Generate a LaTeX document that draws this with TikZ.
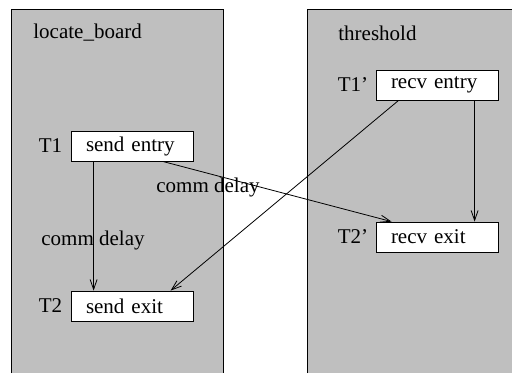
\documentclass[tikz,border=0pt]{standalone}
\usepackage{fontspec}
\setmainfont{Liberation Serif}
\usetikzlibrary{positioning,arrows.meta}

\tikzset{
  lane/.style={fill=black!25, draw=none},
  event/.style={draw, fill=white, line width=0.8pt, minimum width=122pt, minimum height=30pt,
    text width=92pt, inner xsep=15pt, inner ysep=0pt, align=left},
  tlabel/.style={inner sep=0pt},
}

\begin{document}
\begin{tikzpicture}[x=1pt, y=-1pt, >={Straight Barb[length=10pt,width=7pt]},
  font=\fontsize{21}{23}\selectfont, line width=0.8pt]
\useasboundingbox (0,0) rectangle (512,373);

% the two process lanes
\fill[lane] (11,9) rectangle (223,373);
\draw (11,373) -- (11,9) -- (223,9) -- (223,373);
\fill[lane] (307,9) rectangle (512,373);
\draw (307,373) -- (307,9) -- (512,9);

\node[anchor=west, inner sep=0pt] (P1) at (33,33) {locate\_board};
\node[anchor=west, inner sep=0pt] (P2) at (338,33) {threshold};

\node[event] (SE) at (132,146) {send entry};
\node[event] (SX) at (132,306) {send exit};
\node[event] (RE) at (437,85)  {recv entry};
\node[event] (RX) at (437,237) {recv exit};

\node[tlabel, left=8pt of SE] (T1)  {T1};
\node[tlabel, left=8pt of SX] (T2)  {T2};
\node[tlabel, left=7pt of RE] (T1p) {T1'};
\node[tlabel, left=7pt of RX] (T2p) {T2'};

\draw[->] ([xshift=23pt]SE.south west) -> ([xshift=23pt]SX.north west);
\draw[->] ([xshift=92pt]SE.south west) -> ([xshift=16pt]RX.north west);
\draw[->] ([xshift=23pt]RE.south west) -> ([xshift=100pt]SX.north west);
\draw[->] ([xshift=99pt]RE.south west) -> ([xshift=99pt]RX.north west);

\node (D1) at (208,187) {comm delay};
\node (D2) at (93,240)  {comm delay};
\end{tikzpicture}
\end{document}
